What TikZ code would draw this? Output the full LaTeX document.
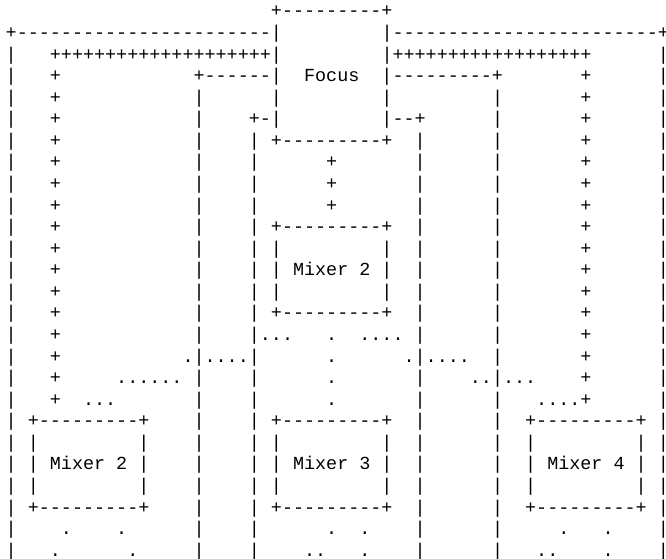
\documentclass[tikz,border=0pt]{standalone}
\usepackage{fontspec}
\setmonofont{Liberation Mono}
\newcommand\colgap[1]{\hspace*{\dimexpr0.6em*#1\relax}}
\newcommand\edgechar[1]{\makebox[0.3em][l]{#1}}
\begin{document}
\begin{tikzpicture}[x=1pt,y=1pt,every node/.style={font=\ttfamily\fontsize{18.42}{21.6}\selectfont,anchor=base west,inner sep=0pt}]
\useasboundingbox (0,0) rectangle (666,559);
\node (r00) at (5.5,542.0) {\colgap{24}+---------+};
\node (r01) at (5.5,520.4) {+-----------------------|\colgap{9}|------------------------\edgechar{+}};
\node (r02) at (5.5,498.9) {|\colgap{3}++++++++++++++++++++|\colgap{9}|++++++++++++++++++\colgap{6}\edgechar{|}};
\node (r03) at (5.5,477.3) {|\colgap{3}+\colgap{12}+------|\colgap{2}Focus\colgap{2}|---------+\colgap{7}+\colgap{6}\edgechar{|}};
\node (r04) at (5.5,455.7) {|\colgap{3}+\colgap{12}|\colgap{6}|\colgap{9}|\colgap{9}|\colgap{7}+\colgap{6}\edgechar{|}};
\node (r05) at (5.5,434.2) {|\colgap{3}+\colgap{12}|\colgap{4}+-|\colgap{9}|--+\colgap{6}|\colgap{7}+\colgap{6}\edgechar{|}};
\node (r06) at (5.5,412.6) {|\colgap{3}+\colgap{12}|\colgap{4}|\colgap{1}+---------+\colgap{2}|\colgap{6}|\colgap{7}+\colgap{6}\edgechar{|}};
\node (r07) at (5.5,391.0) {|\colgap{3}+\colgap{12}|\colgap{4}|\colgap{6}+\colgap{7}|\colgap{6}|\colgap{7}+\colgap{6}\edgechar{|}};
\node (r08) at (5.5,369.4) {|\colgap{3}+\colgap{12}|\colgap{4}|\colgap{6}+\colgap{7}|\colgap{6}|\colgap{7}+\colgap{6}\edgechar{|}};
\node (r09) at (5.5,347.9) {|\colgap{3}+\colgap{12}|\colgap{4}|\colgap{6}+\colgap{7}|\colgap{6}|\colgap{7}+\colgap{6}\edgechar{|}};
\node (r10) at (5.5,326.3) {|\colgap{3}+\colgap{12}|\colgap{4}|\colgap{1}+---------+\colgap{2}|\colgap{6}|\colgap{7}+\colgap{6}\edgechar{|}};
\node (r11) at (5.5,304.7) {|\colgap{3}+\colgap{12}|\colgap{4}|\colgap{1}|\colgap{9}|\colgap{2}|\colgap{6}|\colgap{7}+\colgap{6}\edgechar{|}};
\node (r12) at (5.5,283.2) {|\colgap{3}+\colgap{12}|\colgap{4}|\colgap{1}|\colgap{1}Mixer\colgap{1}2\colgap{1}|\colgap{2}|\colgap{6}|\colgap{7}+\colgap{6}\edgechar{|}};
\node (r13) at (5.5,261.6) {|\colgap{3}+\colgap{12}|\colgap{4}|\colgap{1}|\colgap{9}|\colgap{2}|\colgap{6}|\colgap{7}+\colgap{6}\edgechar{|}};
\node (r14) at (5.5,240.0) {|\colgap{3}+\colgap{12}|\colgap{4}|\colgap{1}+---------+\colgap{2}|\colgap{6}|\colgap{7}+\colgap{6}\edgechar{|}};
\node (r15) at (5.5,218.4) {|\colgap{3}+\colgap{12}|\colgap{4}|...\colgap{3}.\colgap{2}....\colgap{1}|\colgap{6}|\colgap{7}+\colgap{6}\edgechar{|}};
\node (r16) at (5.5,196.9) {|\colgap{3}+\colgap{11}.|....|\colgap{6}.\colgap{6}.|....\colgap{2}|\colgap{7}+\colgap{6}\edgechar{|}};
\node (r17) at (5.5,175.3) {|\colgap{3}+\colgap{5}......\colgap{1}|\colgap{4}|\colgap{6}.\colgap{7}|\colgap{4}..|...\colgap{4}+\colgap{6}\edgechar{|}};
\node (r18) at (5.5,153.7) {|\colgap{3}+\colgap{2}...\colgap{7}|\colgap{4}|\colgap{6}.\colgap{7}|\colgap{6}|\colgap{3}....+\colgap{6}\edgechar{|}};
\node (r19) at (5.5,132.2) {|\colgap{1}+---------+\colgap{4}|\colgap{4}|\colgap{1}+---------+\colgap{2}|\colgap{6}|\colgap{2}+---------+\colgap{1}\edgechar{|}};
\node (r20) at (5.5,110.6) {|\colgap{1}|\colgap{9}|\colgap{4}|\colgap{4}|\colgap{1}|\colgap{9}|\colgap{2}|\colgap{6}|\colgap{2}|\colgap{9}|\colgap{1}\edgechar{|}};
\node (r21) at (5.5,89.0) {|\colgap{1}|\colgap{1}Mixer\colgap{1}2\colgap{1}|\colgap{4}|\colgap{4}|\colgap{1}|\colgap{1}Mixer\colgap{1}3\colgap{1}|\colgap{2}|\colgap{6}|\colgap{2}|\colgap{1}Mixer\colgap{1}4\colgap{1}|\colgap{1}\edgechar{|}};
\node (r22) at (5.5,67.5) {|\colgap{1}|\colgap{9}|\colgap{4}|\colgap{4}|\colgap{1}|\colgap{9}|\colgap{2}|\colgap{6}|\colgap{2}|\colgap{9}|\colgap{1}\edgechar{|}};
\node (r23) at (5.5,45.9) {|\colgap{1}+---------+\colgap{4}|\colgap{4}|\colgap{1}+---------+\colgap{2}|\colgap{6}|\colgap{2}+---------+\colgap{1}\edgechar{|}};
\node (r24) at (5.5,24.3) {|\colgap{4}.\colgap{4}.\colgap{6}|\colgap{4}|\colgap{6}.\colgap{2}.\colgap{4}|\colgap{6}|\colgap{5}.\colgap{3}.\colgap{4}\edgechar{|}};
\node (r25) at (5.5,2.8) {|\colgap{3}.\colgap{6}.\colgap{5}|\colgap{4}|\colgap{4}..\colgap{3}.\colgap{4}|\colgap{6}|\colgap{3}..\colgap{4}.\colgap{4}\edgechar{|}};
\end{tikzpicture}
\end{document}
